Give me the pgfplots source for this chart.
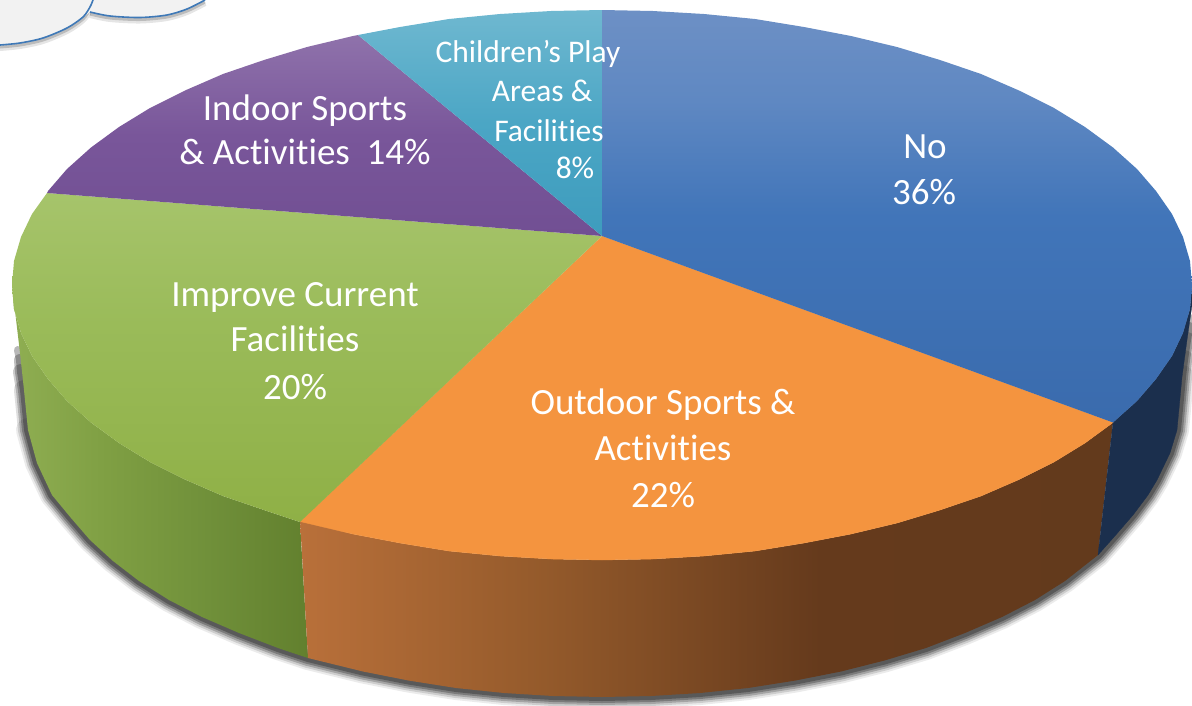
\documentclass[border=0pt]{standalone}
\usepackage{pgfplots}
\usepackage{fontspec}
\setmainfont[Ligatures=NoCommon]{Carlito}
\pgfplotsset{compat=1.18}
\definecolor{navy}{HTML}{1B2F4D}
\definecolor{orangetop}{HTML}{F4943F}
\definecolor{cloudline}{HTML}{3F79B7}
\definecolor{ba}{HTML}{3A6BAD}\definecolor{bb}{HTML}{4175B9}\definecolor{bc}{HTML}{5F88C2}\definecolor{bd}{HTML}{6D90C5}
\definecolor{pa}{HTML}{714F93}\definecolor{pb}{HTML}{79569A}\definecolor{pc}{HTML}{8F72AB}
\definecolor{ca}{HTML}{3E9CBD}\definecolor{cb}{HTML}{4BA6C5}\definecolor{cc}{HTML}{6FB8D0}
\definecolor{ga}{HTML}{8FB046}\definecolor{gb}{HTML}{9ABB59}\definecolor{gc}{HTML}{A6C46B}
\definecolor{sa}{HTML}{8FAE52}\definecolor{sb}{HTML}{7F9F43}\definecolor{sc}{HTML}{70903A}\definecolor{sd}{HTML}{62802E}
\definecolor{oa}{HTML}{B9703A}\definecolor{ob}{HTML}{945A2B}\definecolor{oc}{HTML}{653A1C}\definecolor{od}{HTML}{633A1C}
% TikZ maps the middle 50bp of a shading (25bp to 75bp) onto the path
\pgfdeclareverticalshading{bluetop}{100bp}{color(0bp)=(ba);color(25bp)=(ba);color(50bp)=(bb);color(64bp)=(bc);color(75bp)=(bd);color(100bp)=(bd)}
\pgfdeclareverticalshading{purpletop}{100bp}{color(0bp)=(pa);color(25bp)=(pa);color(50bp)=(pb);color(75bp)=(pc);color(100bp)=(pc)}
\pgfdeclareverticalshading{cyantop}{100bp}{color(0bp)=(ca);color(25bp)=(ca);color(50bp)=(cb);color(75bp)=(cc);color(100bp)=(cc)}
\pgfdeclareverticalshading{greentop}{100bp}{color(0bp)=(ga);color(25bp)=(ga);color(55bp)=(gb);color(75bp)=(gc);color(100bp)=(gc)}
\pgfdeclarehorizontalshading{greenside}{100bp}{color(0bp)=(sa);color(25bp)=(sa);color(41bp)=(sb);color(58bp)=(sc);color(75bp)=(sd);color(100bp)=(sd)}
\pgfdeclarehorizontalshading{orangeside}{100bp}{color(0bp)=(oa);color(25bp)=(oa);color(40bp)=(ob);color(57bp)=(oc);color(75bp)=(od);color(100bp)=(od)}
\pgfplotstableread{
x y
17 345
18 350
20 360
21 372
24 390
28 430
37 463
44 478
52 495
71 518
90 540
113 561
139 581
169 600
202 617
239 633
278 648
308 658
363 671.5
409 680.6
456 688
504 693
553 696
602 697
651 696
700 693
748 688
795 680.6
841 671.5
884.5 660.5
926 648
965 633
1002 617
1035 600
1065 581
1098 555
1114 537
1133 515
1148 495
1157 480
1170 453
1177 430
1182 377
1184 360
1187 340
1189 328
1190 318
}\shadowline
\begin{document}
\begin{tikzpicture}
\begin{axis}[
  scale only axis, width=1192pt, height=705pt,
  xmin=0, xmax=1192, ymin=0, ymax=705, y dir=reverse,
  hide axis, clip=true]
% frame of the picture
\addplot[draw=none] coordinates {(0,0)(1192,705)};
% cloud
\addplot[draw=black, opacity=.10, line width=6pt, yshift=-3pt, smooth] coordinates {(0,45)(20,43)(43,38)(67,28)(83,17)(90,7)(93,0)};
\addplot[draw=black, opacity=.10, line width=6pt, yshift=-3pt, smooth] coordinates {(90,12)(110,16)(140,17.5)(167,15)(187,9)(205,0)};
\addplot[draw=black, opacity=.18, line width=3pt, yshift=-2pt, smooth] coordinates {(0,45)(20,43)(43,38)(67,28)(83,17)(90,7)(93,0)};
\addplot[draw=black, opacity=.18, line width=3pt, yshift=-2pt, smooth] coordinates {(90,12)(110,16)(140,17.5)(167,15)(187,9)(205,0)};
\addplot[fill=black!5, draw=none] coordinates {(0,45)(20,43)(43,38)(67,28)(83,17)(90,12)(110,16)(140,17.5)(167,15)(187,9)(205,0)(0,0)};
\addplot[draw=cloudline, line width=1.6pt, smooth] coordinates {(0,45)(20,43)(43,38)(67,28)(83,17)(90,7)(93,0)};
\addplot[draw=cloudline, line width=1.6pt, smooth] coordinates {(90,12)(110,16)(140,17.5)(167,15)(187,9)(205,0)};
% blurred shadow, wider layers starting later
\tikzset{sh/.style={draw=black, line join=round, line cap=round}}
\addplot[sh, opacity=.08, line width=24pt] table[skip coords between index={0}{5}, skip coords between index={43}{47}] {\shadowline};
\addplot[sh, opacity=.13, line width=20pt] table[skip coords between index={0}{4}, skip coords between index={44}{47}] {\shadowline};
\addplot[sh, opacity=.20, line width=16pt] table[skip coords between index={0}{3}, skip coords between index={45}{47}] {\shadowline};
\addplot[sh, opacity=.25, line width=12pt] table[skip coords between index={0}{2}, skip coords between index={46}{47}] {\shadowline};
\addplot[sh, opacity=.28, line width=8pt] table[skip coords between index={0}{1}] {\shadowline};
% sides
\addplot[draw=none, shade, shading=greenside] coordinates {(12,285)(14,309)(21,333)(32,356)(48,379)(67,401)(91,422.5)(119,443)(150,462)(185,479.5)(223,496)(264,510)(300,522)(308,658)(278,648)(239,633)(202,617)(169,600)(139,581)(113,561)(90,540)(71,518)(52,495)(44,478)(37,463)(28,430)(24,390)(20,353)};
\addplot[draw=none, shade, shading=orangeside] coordinates {(300,520)(353,534)(400,543)(449,551)(500,556)(551,559)(602,560)(653,559)(704,556)(755,551)(804,543)(851,534)(897,523)(940,510)(981,496)(1019,479.5)(1054,462)(1085,443)(1113,422.5)(1098,555)(1065,581)(1035,600)(1002,617)(965,633)(926,648)(884.5,660.5)(841,671.5)(795,680.6)(748,688)(700,693)(651,696)(602,697)(553,696)(504,693)(456,688)(409,680.6)(363,671.5)(308,658)};
\addplot[fill=navy, draw=navy, line width=.3pt] coordinates {(1192,285)(1190,309)(1183,333)(1172,356)(1156,379)(1137,401)(1113,422.5)(1098,555)(1114,537)(1133,515)(1148,495)(1157,480)(1170,453)(1177,430)(1182,377)(1187,340)(1192,305)};
% top slices
\addplot[fill=orangetop, draw=orangetop, line width=.4pt] coordinates {(602,236)(1113,422.5)(1085,443)(1054,462)(1019,479.5)(981,496)(940,510)(897,523)(851,534)(804,543)(755,551)(704,556)(653,559)(602,560)(551,559)(500,556)(449,551)(400,543)(353,534)(300,521.5)};
\addplot[draw=none, shade, shading=greentop] coordinates {(602,236)(300,522)(264,510)(223,496)(185,479.5)(150,462)(119,443)(91,422.5)(67,401)(48,379)(32,356)(21,333)(14,309)(12,285)(14,261)(21,237)(32,214)(47,193)};
\addplot[draw=none, shade, shading=purpletop] coordinates {(602,236)(47,193)(48,191)(67,169)(91,147.5)(119,127)(150,108)(185,90.5)(223,74)(264,60)(307,47)(353,36)(358,35)};
\addplot[draw=none, shade, shading=cyantop] coordinates {(602,236)(358,35)(400,27)(449,19)(500,14)(551,11)(602,10)};
\addplot[draw=none, shade, shading=bluetop] coordinates {(602,236)(602,10)(653,11)(704,14)(755,19)(804,27)(851,36)(897,47)(940,60)(981,74)(1019,90.5)(1054,108)(1085,127)(1113,147.5)(1137,169)(1156,191)(1172,214)(1183,237)(1190,261)(1192,285)(1190,309)(1183,333)(1172,356)(1156,379)(1137,401)(1113,422.5)};
% labels
\tikzset{lab/.style={anchor=base, text=white, inner sep=0pt, font=\fontsize{37}{37}\selectfont}, labs/.style={anchor=base, text=white, inner sep=0pt, font=\fontsize{31.5}{32}\selectfont}}
\node[lab] at (axis cs:925,158) {No};
\node[lab] at (axis cs:924,204) {36\%};
\node[lab] at (axis cs:663,414) {Outdoor Sports \&};
\node[lab] at (axis cs:663,460) {Activities};
\node[lab] at (axis cs:663,507) {22\%};
\node[lab] at (axis cs:295,306) {Improve Current};
\node[lab] at (axis cs:295,351) {Facilities};
\node[lab] at (axis cs:295,399) {20\%};
\node[lab] at (axis cs:305,120) {Indoor Sports};
\node[lab] at (axis cs:305,164) {\& Activities\ \ 14\%};
\node[labs] at (axis cs:528,62) {Children’s Play};
\node[labs] at (axis cs:542,101) {Areas \&};
\node[labs] at (axis cs:549,141) {Facilities};
\node[labs] at (axis cs:575,178) {8\%};
\end{axis}
\end{tikzpicture}
\end{document}
